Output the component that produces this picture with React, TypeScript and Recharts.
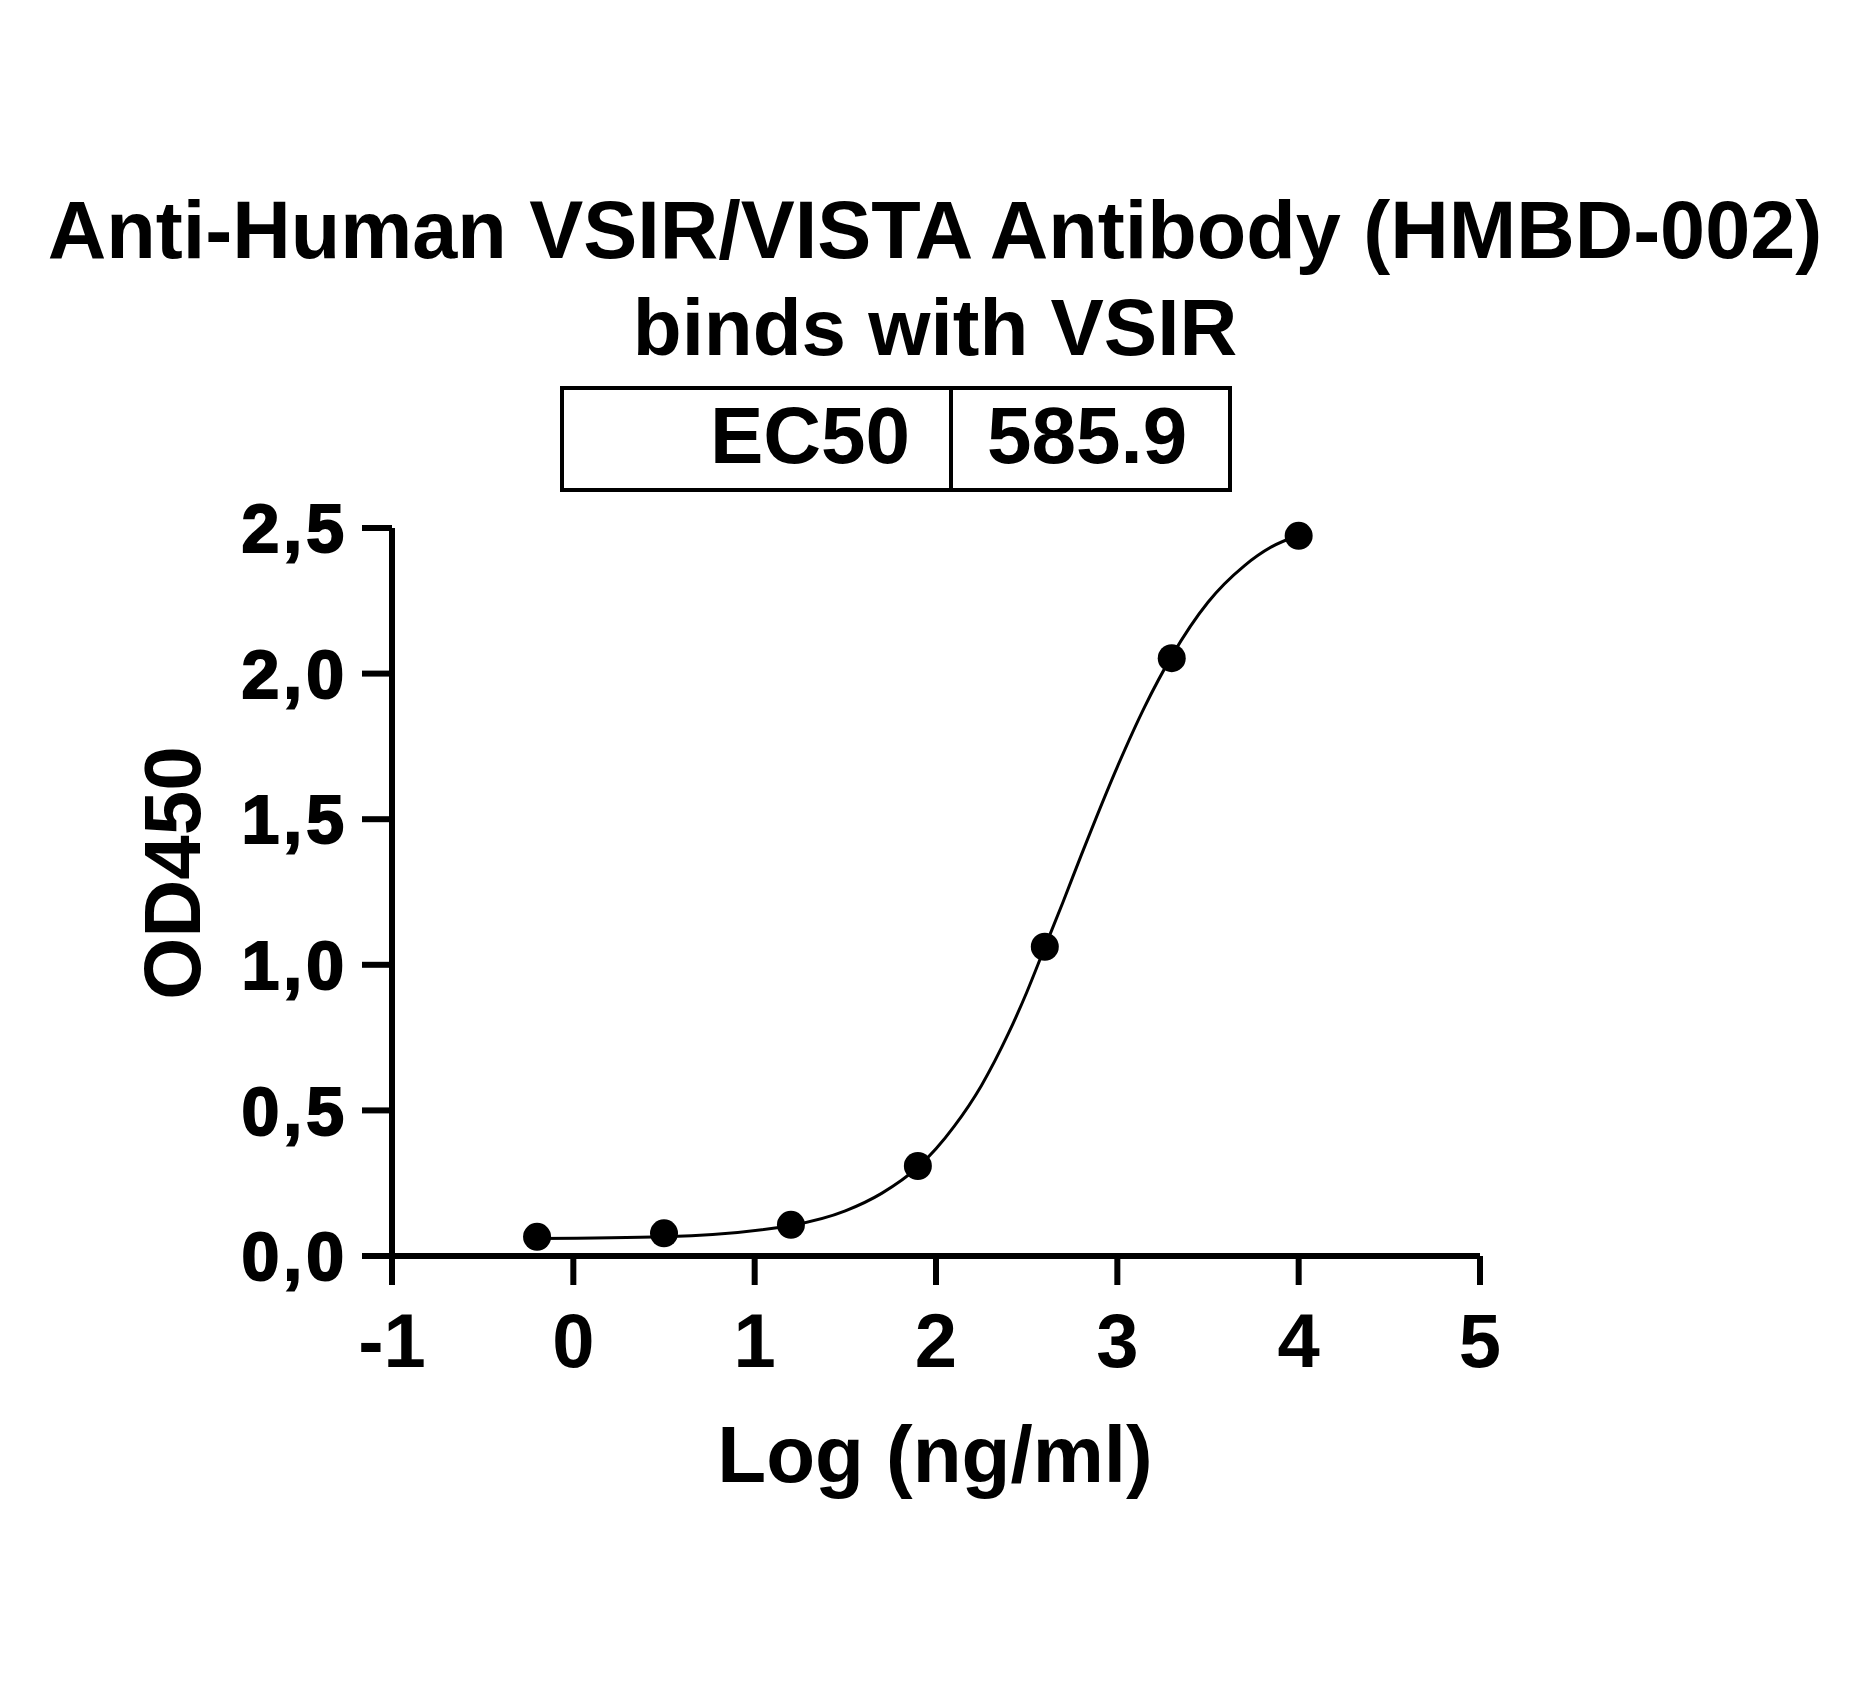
import React from 'react';
import {
  ComposedChart,
  Line,
  Scatter,
  XAxis,
  YAxis,
} from 'recharts';

// measured points: log dose vs OD450
const logDose = [-0.2, 0.5, 1.2, 1.9, 2.6, 3.3, 4.0];
const od450 = [0.066, 0.078, 0.107, 0.309, 1.062, 2.053, 2.473];

// fitted curve
const curveX = [-0.2, 0.5, 1.2, 1.5, 1.7, 1.9, 2.0, 2.1, 2.25, 2.4, 2.5, 2.6, 2.7, 2.8, 3.0, 3.15, 3.3, 3.5, 3.7, 3.85, 4.0];
const curveY = [0.06, 0.066, 0.105, 0.155, 0.215, 0.305, 0.368, 0.445, 0.585, 0.765, 0.905, 1.06, 1.215, 1.375, 1.68, 1.885, 2.06, 2.245, 2.37, 2.435, 2.475];

const xTicks = [-1, 0, 1, 2, 3, 4, 5];
const yTicks = [0, 0.5, 1, 1.5, 2, 2.5];

const titleLines = ['Anti-Human VSIR/VISTA Antibody (HMBD-002)', 'binds with VSIR'];
const ec50Label = 'EC50';
const ec50Value = '585.9';

const points = logDose.map((x, i) => ({ x, y: od450[i] }));
const curve = curveX.map((x, i) => ({ x, y: curveY[i] }));

const FONT = '"Liberation Sans", Arial, Helvetica, sans-serif';

function Dot(props: any) {
  return <circle cx={props.cx} cy={props.cy} r={14} fill="#000" />;
}

export default function App() {
  return (
    <div
      style={{
        position: 'absolute',
        left: 0,
        top: 0,
        width: 1873,
        height: 1688,
        background: '#fff',
        fontFamily: FONT,
      }}
    >
      <ComposedChart
        width={1873}
        height={1688}
        margin={{ top: 528, right: 393, bottom: 332, left: 192 }}
      >
        <XAxis
          dataKey="x"
          type="number"
          domain={[-1, 5]}
          ticks={xTicks}
          allowDataOverflow
          height={100}
          axisLine={{ stroke: '#000', strokeWidth: 6 }}
          tickLine={{ stroke: '#000', strokeWidth: 6 }}
          tickSize={29}
          tickMargin={28}
          tick={{ fill: '#000', fontSize: 76, fontWeight: 'bold', fontFamily: FONT }}
        />
        <YAxis
          type="number"
          domain={[0, 2.5]}
          ticks={yTicks}
          width={200}
          axisLine={{ stroke: '#000', strokeWidth: 6 }}
          tickLine={{ stroke: '#000', strokeWidth: 6 }}
          tickSize={30}
          tickMargin={14}
          tickFormatter={(v: number) => v.toFixed(1).replace('.', ',')}
          tick={{
            fill: '#000',
            stroke: '#000',
            strokeWidth: 2,
            fontSize: 68,
            fontWeight: 'bold',
            fontFamily: FONT,
            letterSpacing: 4,
          }}
        />
        <Line
          data={curve}
          dataKey="y"
          type="monotone"
          stroke="#000"
          strokeWidth={3}
          strokeLinejoin="round"
          dot={false}
          activeDot={false}
          isAnimationActive={false}
        />
        <Scatter data={points} dataKey="y" fill="#000" shape={<Dot />} isAnimationActive={false} />
      </ComposedChart>

      <svg
        width={1873}
        height={1688}
        style={{ position: 'absolute', left: 0, top: 0, pointerEvents: 'none' }}
        fontFamily={FONT}
        fontWeight="bold"
        fill="#000"
      >
        <text x={935} y={258} textAnchor="middle" fontSize={81}>
          {titleLines[0]}
        </text>
        <text x={935} y={355} textAnchor="middle" fontSize={80}>
          {titleLines[1]}
        </text>

        <rect x={562} y={388} width={668} height={102} fill="none" stroke="#000" strokeWidth={4} />
        <line x1={951} y1={388} x2={951} y2={490} stroke="#000" strokeWidth={4} />
        <text x={910} y={463} textAnchor="end" fontSize={80}>
          {ec50Label}
        </text>
        <text x={987} y={463} textAnchor="start" fontSize={80}>
          {ec50Value}
        </text>

        <text x={935} y={1482} textAnchor="middle" fontSize={80}>
          Log (ng/ml)
        </text>
        <text transform="translate(200,873) rotate(-90)" textAnchor="middle" fontSize={80}>
          OD450
        </text>
      </svg>
    </div>
  );
}
